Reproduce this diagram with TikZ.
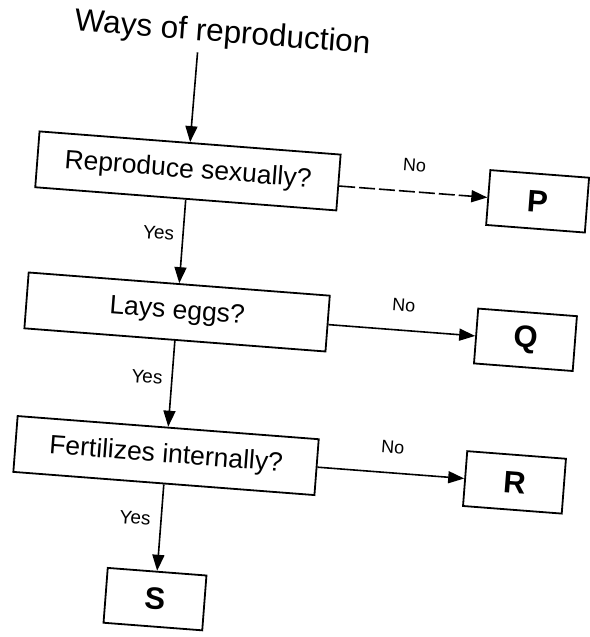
\documentclass[tikz,border=0pt]{standalone}
\usepackage{fontspec}
\setmainfont{Liberation Sans}
\usetikzlibrary{arrows.meta}
\begin{document}
\begin{tikzpicture}[x=1pt,y=-1pt,
  qbox/.style={draw, line width=1.8pt, minimum width=302pt, minimum height=56pt, inner sep=0pt, font=\fontsize{26.5}{30}\selectfont},
  lbox/.style={draw, line width=1.8pt, minimum width=99pt, minimum height=55pt, inner sep=0pt, font=\fontsize{31}{36}\selectfont\bfseries},
  conn/.style={line width=1.6pt, -{Triangle[length=16pt,width=12pt]}},
  nolab/.style={font=\fontsize{18}{20}\selectfont},
  yeslab/.style={font=\fontsize{19}{22}\selectfont},
]
\useasboundingbox (0,0) rectangle (589,637);
\begin{scope}[rotate=-4.4, transform shape]
  \node[anchor=base, font=\fontsize{31.5}{36}\selectfont] (title) at (224.5,25) {Ways of reproduction};
  \coordinate (t0) at (201,37);
  \node[qbox] (b1) at (200.5,156) {Reproduce sexually?};
  \node[qbox] (b2) at (200.5,297.5) {Lays eggs?};
  \node[qbox] (b3) at (200.5,441.5) {Fertilizes internally?};
  \node[lbox] (P) at (551.5,159.5) {P};
  \node[lbox] (Q) at (550,298.5) {Q};
  \node[lbox] (R) at (550,441.5) {R};
  \node[lbox] (S) at (200.5,585.5) {S};
  \draw[conn] (t0) -- (b1.north);
  \draw[conn, dash pattern=on 16pt off 4pt] (b1.east |- P.west) -- (P.west);
  \draw[conn] (b2.east |- Q.west) -- (Q.west);
  \draw[conn] (b3.east) -- (R.west);
  \draw[conn] (b1.south) -- (b2.north);
  \draw[conn] (b2.south) -- (b3.north);
  \draw[conn] (b3.south) -- (S.north);
  \node[nolab] (n1) at (426,133) {No};
  \node[nolab] (n2) at (426,273) {No};
  \node[nolab] (n3) at (426,416) {No};
  \node[yeslab] (y1) at (176,220) {Yes};
  \node[yeslab] (y2) at (175.5,364.5) {Yes};
  \node[yeslab] (y3) at (174.5,506) {Yes};
\end{scope}
\end{tikzpicture}
\end{document}
